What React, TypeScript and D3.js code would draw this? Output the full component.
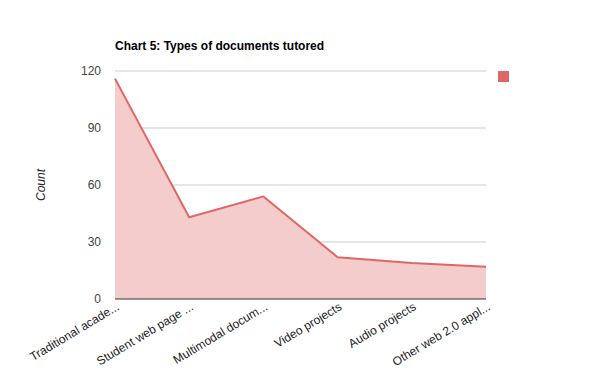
import React from "react";
import * as d3 from "d3";

const categories = [
  "Traditional acade...",
  "Student web page ...",
  "Multimodal docum...",
  "Video projects",
  "Audio projects",
  "Other web 2.0 appl...",
];
const counts = [116, 43, 54, 22, 19, 17];
const yTicks = [0, 30, 60, 90, 120];

const WIDTH = 600;
const HEIGHT = 371;
const MARGIN = { top: 71, right: 114, bottom: 72, left: 115 };
const LINE_COLOR = "#e06666";
const FONT = "Arial, 'Liberation Sans', sans-serif";

const App = () => {
  const boundsWidth = WIDTH - MARGIN.left - MARGIN.right;
  const boundsHeight = HEIGHT - MARGIN.top - MARGIN.bottom;

  const xScale = d3.scalePoint<string>().domain(categories).range([0, boundsWidth]);
  const yScale = d3.scaleLinear().domain([0, 120]).range([boundsHeight, 0]);

  const points = categories.map((c, i) => [xScale(c) ?? 0, yScale(counts[i])] as [number, number]);

  const linePath = d3.line()(points) ?? "";
  const areaPath =
    d3
      .area<[number, number]>()
      .x((d) => d[0])
      .y0(boundsHeight)
      .y1((d) => d[1])(points) ?? "";

  return (
    <svg
      width={WIDTH}
      height={HEIGHT}
      style={{ position: "absolute", top: 0, left: 0, fontFamily: FONT }}
    >
      <rect width={WIDTH} height={HEIGHT} fill="white" />
      <text x={115} y={50} fontSize={12} fontWeight="bold" fill="#000">
        Chart 5: Types of documents tutored
      </text>
      <g transform={`translate(${MARGIN.left},${MARGIN.top})`}>
        {yTicks.map((t) => (
          <g key={t}>
            {t !== 0 && (
              <line x1={0} x2={boundsWidth} y1={yScale(t)} y2={yScale(t)} stroke="#cccccc" />
            )}
            <text
              x={-14}
              y={yScale(t)}
              dy="0.35em"
              textAnchor="end"
              fontSize={12}
              fill="#444"
            >
              {t}
            </text>
          </g>
        ))}
        <path d={areaPath} fill="#f4cccc" />
        <path d={linePath} fill="none" stroke={LINE_COLOR} strokeWidth={2} strokeLinejoin="round" />
        <line x1={0} x2={boundsWidth} y1={boundsHeight} y2={boundsHeight} stroke="#333" />
        {categories.map((c) => (
          <text
            key={c}
            transform={`translate(${(xScale(c) ?? 0) + 5},${boundsHeight + 10}) rotate(-31)`}
            textAnchor="end"
            fontSize={12}
            fill="#222"
          >
            {c}
          </text>
        ))}
      </g>
      <text
        transform={`translate(45,${MARGIN.top + boundsHeight / 2}) rotate(-90)`}
        textAnchor="middle"
        fontSize={12}
        fontStyle="italic"
        fill="#222"
      >
        Count
      </text>
      <rect x={498} y={71} width={11} height={11} fill={LINE_COLOR} />
    </svg>
  );
};

export default App;
